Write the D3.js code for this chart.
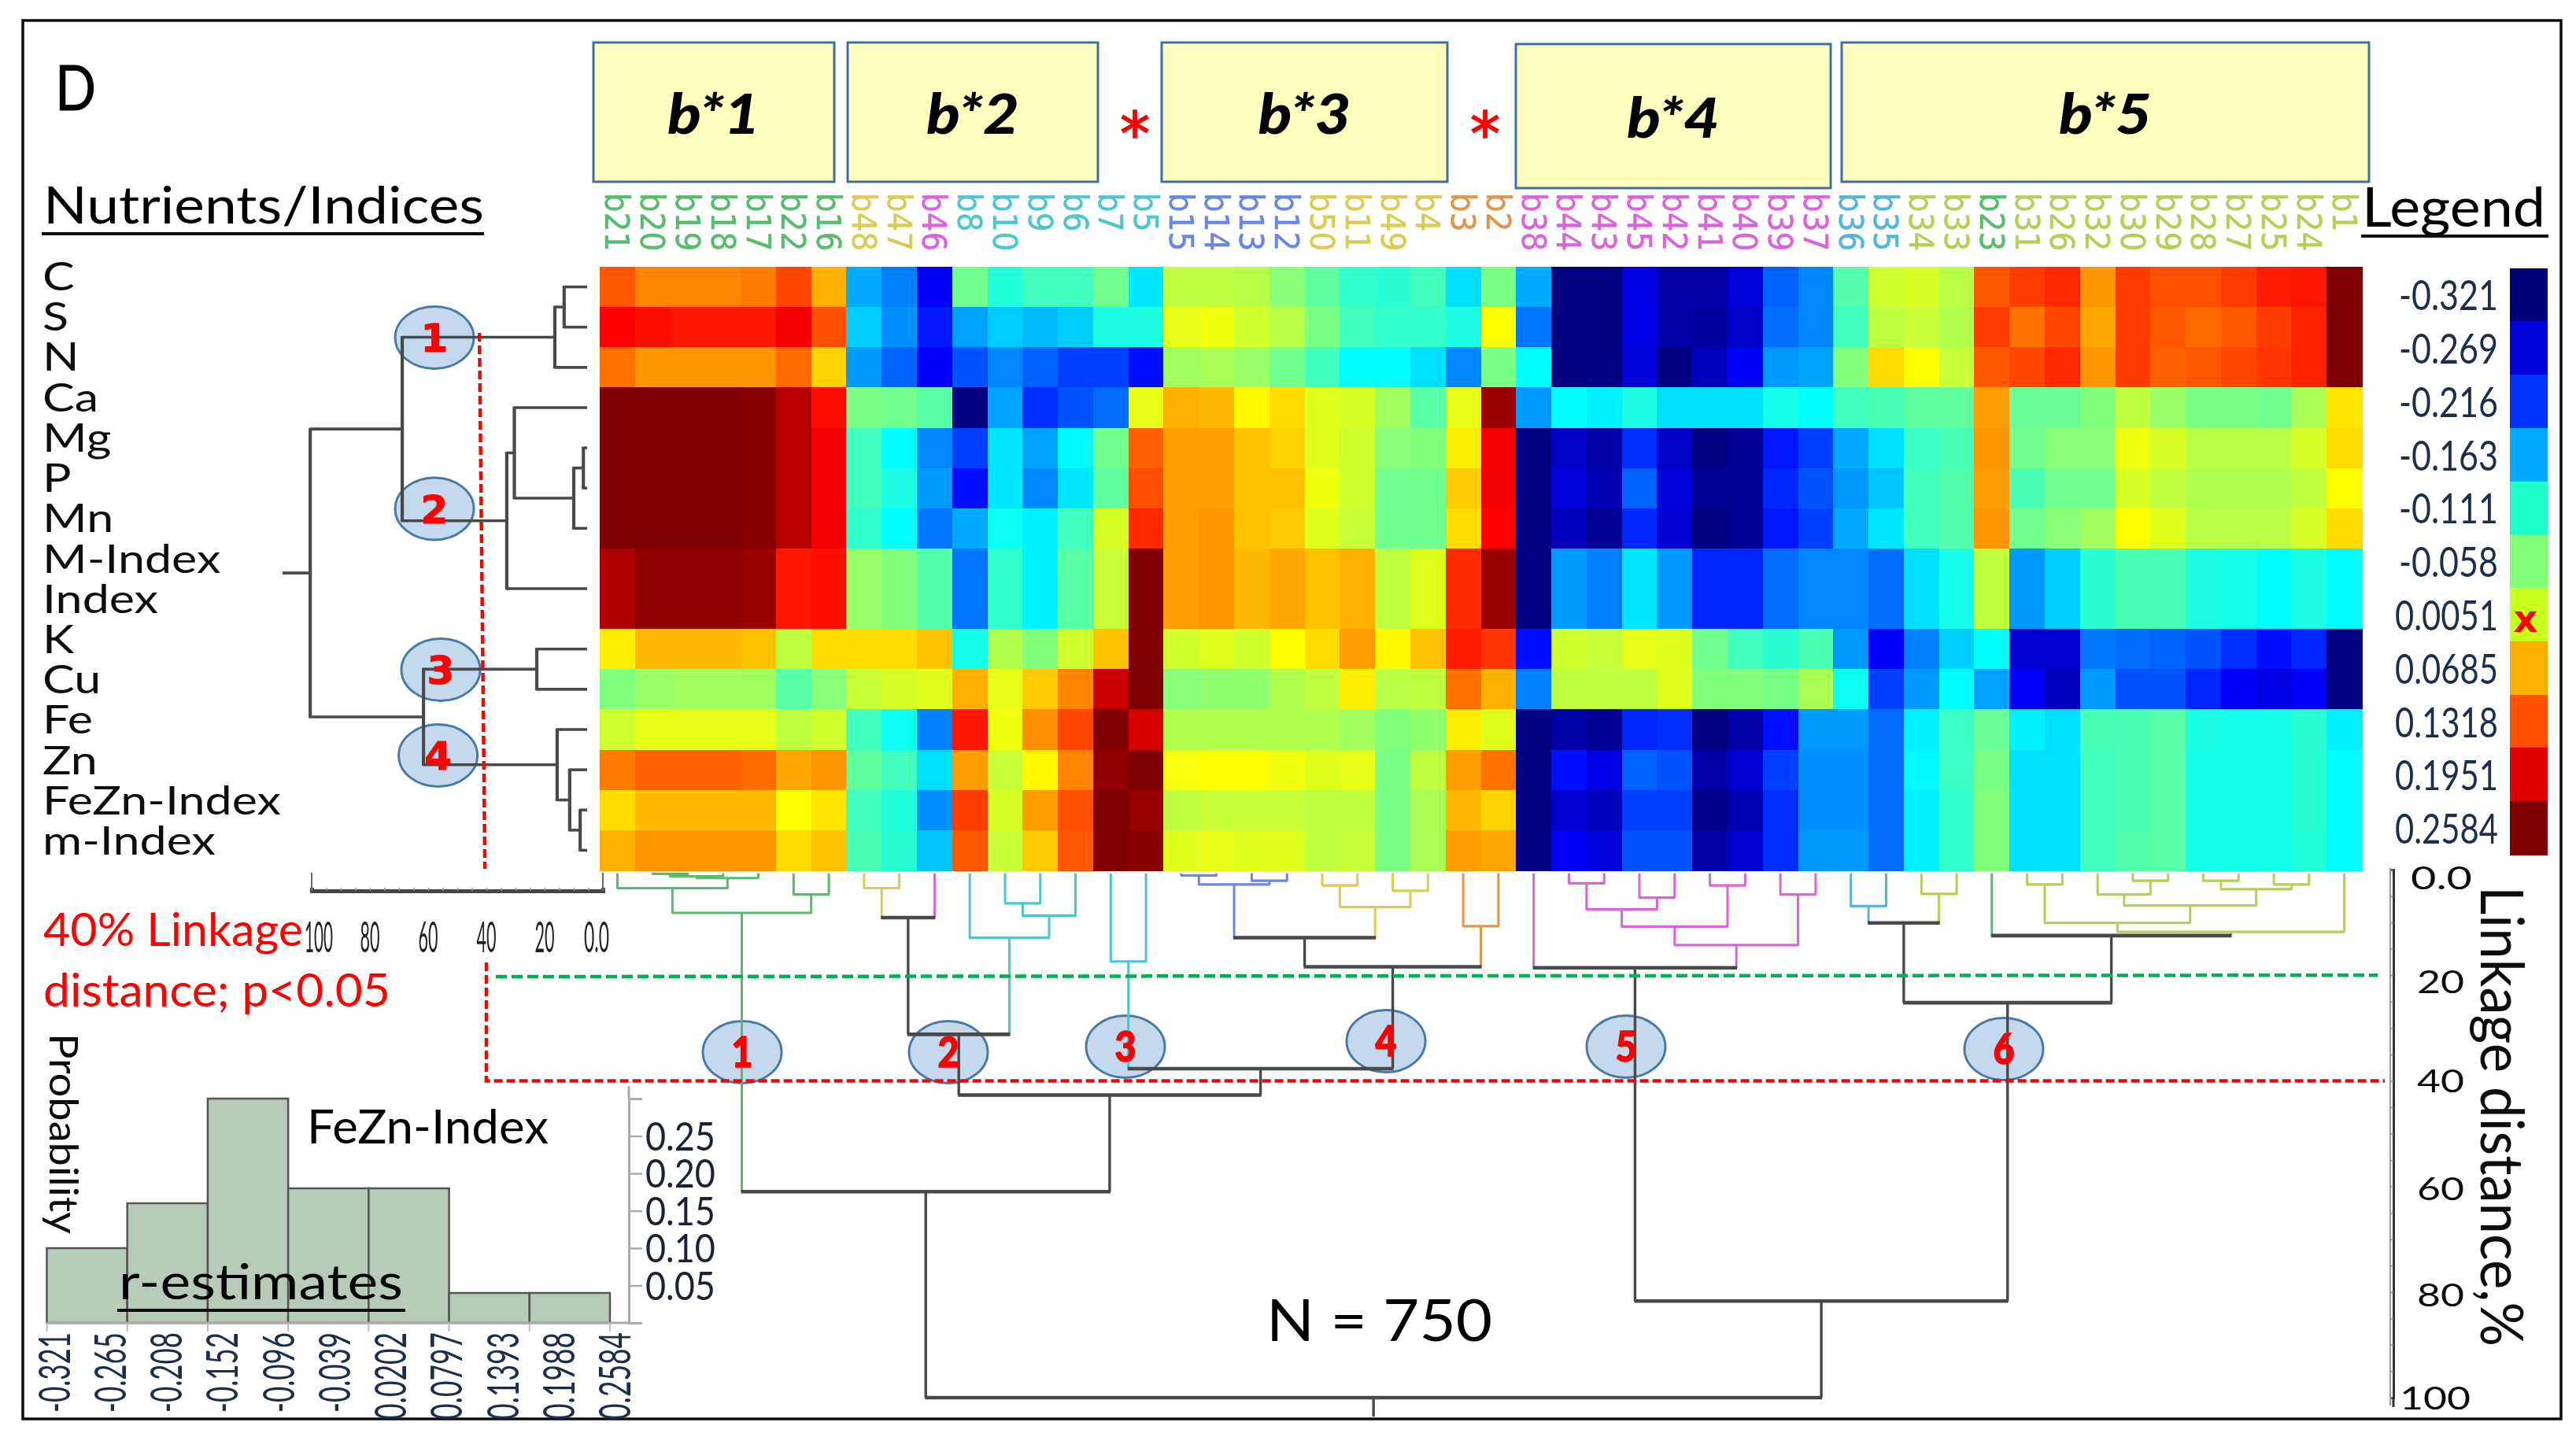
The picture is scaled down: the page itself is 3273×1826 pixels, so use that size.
<!DOCTYPE html>
<html><head><meta charset="utf-8">
<script src="https://cdnjs.cloudflare.com/ajax/libs/d3/7.8.5/d3.min.js"></script>
<style>html,body{margin:0;padding:0;background:#fff}svg{display:block}</style>
</head><body><svg id="c" width="3273" height="1826"></svg>
<script>
// ---------- DATA ----------
const columns = ["b21","b20","b19","b18","b17","b22","b16","b48","b47","b46","b8","b10","b9","b6","b7","b5","b15","b14","b13","b12","b50","b11","b49","b4","b3","b2","b38","b44","b43","b45","b42","b41","b40","b39","b37","b36","b35","b34","b33","b23","b31","b26","b32","b30","b29","b28","b27","b25","b24","b1"];
const nutrients = ["C","S","N","Ca","Mg","P","Mn","M-Index","Index","K","Cu","Fe","Zn","FeZn-Index","m-Index"];
// correlation estimates, r x 100, in column order
const rC  = [14.5,12,12,12,12.5,15.5,9.5,-16,-18.5,-26,-4,-9,-7,-7,-4,-12.5,1,1,.5,-2.5,-5,-8,-8.5,-7,-13,-3.5,-16,-32,-32,-27,-30,-30,-27.5,-20,-18,-6,2,2.5,.5,14.5,16,17,11,16,15,15,16,18,18.5,26];
const rS  = [19.5,19,18.5,18.5,18.5,20,15,-14,-17.5,-24.5,-16.5,-14,-15,-14,-9.5,-9.5,3.5,4,2,.5,-3.5,-7,-8,-8,-9.5,5,-19,-32,-32,-27,-30,-30.5,-28.5,-19.5,-18,-7,1,1.5,0,16,13,15.5,10,16,14.5,13.5,14.5,16,17.5,26];
const rN  = [13,11,11,11,11,13.5,7.5,-17,-20,-26,-21,-18,-20,-22,-22,-25,-1,-.5,-1.5,-4,-7,-11,-11,-13,-18,-3.5,-11,-32,-32,-27.5,-32,-29,-26,-17,-16.5,-3,7,5,1.5,14.5,15.5,17,11,16,14,14.5,15.5,16.5,17.5,26];
const rCa = [26,26,26,26,25.5,23,19,-3.5,-4,-5.5,-32,-16.5,-23,-21,-19.5,3.5,9.5,9,5.5,7,3,2.5,-1,-5.5,3.5,24.5,-17,-11,-12,-9.5,-13,-13,-13,-10,-11,-7,-6.5,-5,-5,10.5,-4.5,-4.5,-3,1,-1.5,-3.5,-3.5,-4,-.5,6.5];
const rMg = [26,26,26,26,25.5,23,20,-7,-11,-18,-22,-12.5,-16.5,-11.5,-4,14,10.5,10.5,8.5,7.5,3,2,-2.5,-3,6,20,-32,-28.5,-30,-23,-28.5,-32,-31,-24.5,-22,-16,-13,-7.5,-6.5,11,-4,-2.5,-2.5,4,2.5,.5,.5,.5,2.5,7];
const rP  = [26,26,26,26,25.5,23,20,-7,-9.5,-17,-25,-12.5,-18,-12.5,-5,15,10.5,10.5,8.5,8.5,4,2,-4,-4,8,20,-32,-27.5,-29.5,-20,-27.5,-31,-31,-23.5,-21,-17,-14.5,-7,-6,10.5,-6.5,-4,-4,2.5,1,0,0,0,1,5];
const rMn = [26,26,26,26,25.5,23,20,-8,-11,-19,-16,-10.5,-12,-7,2.5,17,10.5,11,8.5,8,3,1.5,-4,-4,7,19.5,-32,-29,-31,-23.5,-28,-32,-31,-24.5,-22,-16,-12.5,-7,-6,11,-4,-2.5,-1,5,3,.5,.5,.5,2.5,7];
const rMI = [23.5,25,25,25,24.5,18.5,19,-1.5,-3,-6,-19,-8,-12,-5.5,1.5,26,10.5,11,9,10,8.5,9.5,1,3,17,24.5,-32,-17,-18.5,-12.5,-17,-23.5,-23.5,-19.5,-18,-18,-19.5,-13,-10,1,-17,-14,-8.5,-6.5,-6.5,-9.5,-10,-11,-9.5,-11];
const rI  = [23.5,25,25,25,24.5,18.5,19,-1.5,-3,-6,-19,-8,-12,-5.5,1.5,26,10.5,11,9,10,8.5,9.5,1,3,17,24.5,-32,-17,-18.5,-12.5,-17,-23.5,-23.5,-19.5,-18,-18,-19.5,-13,-10,1,-17,-14,-8.5,-6.5,-6.5,-9.5,-10,-11,-9.5,-11];
const rK  = [6,9,9,9,8.5,1,7,7,7,8.5,-10,0,-3,2,8.5,26,2,3,2,5,7,10.5,5.5,8.5,18,16.5,-25,2,1.5,3.5,3,-4,-7,-8.5,-6.5,-17,-26,-18.5,-14,-11,-28,-28,-19,-19.5,-20,-21,-23,-25,-23.5,-32];
const rCu = [-3,-1.5,-1,-1,-1,-5.5,-2.5,1.5,2.5,3,9.5,3.5,8,12,22,26,-2.5,-2,-2,0,1,6,.5,1,13,9.5,-18.5,1,1,1,3,-3,-3,-3.5,-.5,-10.5,-22,-17,-11,-16.5,-26,-29,-17,-21,-21,-23.5,-26,-27,-26,-32];
const rFe = [2,3.5,3.5,3.5,3.5,1,2,-7,-10.5,-18.5,18.5,4,11.5,15.5,26,21.5,0,0,0,0,0,-1,-3,-2,6,3,-32,-30,-31,-23.5,-23,-32,-30,-25,-17,-17,-19.5,-12,-7.5,-4.5,-12,-13,-6.5,-6.5,-5.5,-9.5,-10,-10,-8.5,-12];
const rZn = [12.5,14,14,14,13.5,10,11,-5,-7,-13,10.5,1.5,5.5,12,25,26,4.5,5,5,4,3,3.5,-3.5,1,10.5,13,-32,-25,-27,-20,-21,-30,-28,-22,-17.5,-17.5,-19.5,-11.5,-7.5,-3.5,-13,-13,-7,-6.5,-5.5,-10,-10,-10,-8.5,-11];
const rFZ = [7,9,9,9,9,5,6.5,-7,-9,-17.5,16,2.5,10.5,15,26,24.5,1,1.5,1.5,1.5,1,1,-3.5,-.5,9,7.5,-32,-28,-29,-22,-22,-31.5,-29.5,-23,-17.5,-17.5,-19.5,-12,-8,-3,-13,-13,-7,-6.5,-5.5,-10,-10,-10,-8.5,-11];
const rMi = [9.5,11,11,11,11,7,8.5,-6.5,-8.5,-14.5,14.5,1.5,8,14.5,26,25.5,3,3.5,3,3,1,1.5,-3.5,-.5,10.5,10,-32,-26,-27.5,-21,-21,-30,-28,-23,-17,-17,-19.5,-12,-8,-3,-13,-13,-7,-6,-5.5,-10,-10,-10,-9,-11];
const heatRows = [rC,rS,rN,rCa,rMg,rP,rMn,rMI,rI,rK,rCu,rFe,rZn,rFZ,rMi];

const groupKeys = ["green","yellow","magenta","teal","blue","orange","sky","lime"];
const groupColours = ["#57bb6d","#d9cb52","#d964d9","#4cc6cc","#6b85e6","#e0954e","#52b4dc","#b4cf57"];
const columnGroups = ["green","green","green","green","green","green","green","yellow","yellow","magenta","teal","teal","teal","teal","teal","teal","blue","blue","blue","blue","yellow","yellow","yellow","yellow","orange","orange","magenta","magenta","magenta","magenta","magenta","magenta","magenta","magenta","magenta","sky","sky","lime","lime","green","lime","lime","lime","lime","lime","lime","lime","lime","lime","lime"];

const legendValues = ["-0.321","-0.269","-0.216","-0.163","-0.111","-0.058","0.0051","0.0685","0.1318","0.1951","0.2584"];
const legendColours = ["#000078","#0000dc","#0032ff","#00aaff","#1effc8","#82ff78","#c8ff1e","#ffaf00","#ff5000","#e10000","#7f0000"];

const histProbability = [0.10,0.16,0.30,0.18,0.18,0.04,0.04];
const histLabels = ["-0.321","-0.265","-0.208","-0.152","-0.096","-0.039","0.0202","0.0797","0.1393","0.1988","0.2584"];
const histTicks = [0.05,0.10,0.15,0.20,0.25];

const boxLabels = ["b*1","b*2","b*3","b*4","b*5"];
const linkageTicks = [0,20,40,60,80,100];

// dendrogram helper: node(height, group, children); leaves are plain names
const nd = (h,g,...kids) => ({h,g,kids});
const D="dark",G="green",Y="yellow",M="magenta",T="teal",B="blue",O="orange",S="sky",L="lime";
const genotypeTree = nd(100,D,
  nd(61,D,
    nd(8.2,G, nd(3.5,G,"b21",nd(1.6,G,nd(1.3,G,nd(.8,G,"b20","b19"),"b18"),"b17")), nd(4.7,G,"b22","b16")),
    nd(42.7,D,
      nd(31.2,D, nd(9.1,D,nd(3.5,Y,"b48","b47"),"b46"), nd(12.9,T,"b8",nd(8.7,T,nd(6.4,T,"b10","b9"),"b6"))),
      nd(37.7,D, nd(17.4,T,"b7","b5"),
        nd(18.4,D,
          nd(12.9,D, nd(2.8,B,nd(1.1,B,"b15","b14"),nd(2.1,B,"b13","b12")), nd(7.1,Y,nd(3,Y,"b50","b11"),nd(4,Y,"b49","b4"))),
          nd(10.7,O,"b3","b2"))))),
  nd(81.7,D,
    nd(18.6,D,"b38",nd(14.3,M,nd(10.8,M,nd(7.5,M,nd(2.6,M,"b44","b43"),nd(5.3,M,"b45","b42")),nd(3,M,"b41","b40")),nd(4.7,M,"b39","b37"))),
    nd(25.2,D,
      nd(10.1,D,nd(6.9,S,"b36","b35"),nd(4.6,L,"b34","b33")),
      nd(12.5,D,"b23",nd(11.8,L,nd(10.1,L,nd(2.8,L,"b31","b26"),nd(6.8,L,nd(4.7,L,"b32",nd(2.1,L,"b30","b29")),nd(3.7,L,nd(2.1,L,"b28","b27"),nd(2.8,L,"b25","b24")))),"b1")))));
const nutrientTree = nd(100.5,D,
  nd(68.9,D,
    nd(16.5,D,nd(13.3,D,"C","S"),"N"),
    nd(33,D,nd(30.4,D,"Ca",nd(10,D,nd(6.7,D,"Mg","P"),"Mn")),nd(4,D,"M-Index","Index"))),
  nd(61.6,D,
    nd(22.7,D,"K","Cu"),
    nd(15.7,D,"Fe",nd(11.4,D,"Zn",nd(7.8,D,"FeZn-Index","m-Index")))));

// ---------- SCALES ----------
const svg = d3.select("#c");
svg.append("defs").append("filter").attr("id","soft").attr("filterUnits","userSpaceOnUse")
  .attr("x",0).attr("y",0).attr("width",3273).attr("height",1826)
  .append("feGaussianBlur").attr("stdDeviation",0.7);
const root = svg.append("g").attr("filter","url(#soft)");
root.append("rect").attr("width",3273).attr("height",1826).attr("fill","#fff");

const xCol = d3.scaleBand().domain(columns).range([762,3001]);
const yRow = d3.scaleBand().domain(nutrients).range([339,1106]);
const heat = d3.scaleLinear()
  .domain([-32.1,-25.7,-11.2,-3.1,5,19.5,25.84])
  .range(["#00007f","#0000ff","#00ffff","#7fff7f","#ffff00","#ff0000","#7f0000"])
  .clamp(true);
const groupColour = d3.scaleOrdinal().domain(groupKeys).range(groupColours);
const DARK = "#4a4a4a";
const colourOf = g => g===D ? DARK : groupColour(g);
const columnColour = c => groupColour(columnGroups[columns.indexOf(c)]);
const yLink = d3.scaleLinear().domain([0,100]).range([1105,1776]);
const xLink = d3.scaleLinear().domain([100,0]).range([396,766]);
const yLabel = d3.scalePoint().domain(nutrients).range([369,1086]);

const LATO = "Lato, 'Open Sans', sans-serif", DEJA = "'DejaVu Sans', sans-serif";
function txt(p,s,x,y,o={}){
  const t = p.append("text").text(s).attr("font-family",o.f||LATO).attr("font-size",o.s||40)
    .attr("fill",o.c||"#000").attr("text-anchor",o.a||"start")
    .attr("transform",`translate(${x},${y})`+(o.r?` rotate(${o.r})`:"")+((o.sx||o.sy)?` scale(${o.sx||1},${o.sy||1})`:""));
  if(o.w) t.attr("textLength",o.w).attr("lengthAdjust","spacingAndGlyphs");
  if(o.b) t.attr("font-weight",o.b);
  if(o.i) t.attr("font-style","italic");
  if(o.st) t.attr("stroke",o.c||"#000").attr("stroke-width",o.st);
  return t;
}
const rule = (p,x1,y1,x2,y2,c,w) => p.append("line").attr("x1",x1).attr("y1",y1).attr("x2",x2).attr("y2",y2).attr("stroke",c).attr("stroke-width",w);

// ---------- FRAME ----------
root.append("rect").attr("x",29).attr("y",26).attr("width",3225).attr("height",1777)
  .attr("fill","none").attr("stroke","#111").attr("stroke-width",3.5);
txt(root,"D",70,140,{s:80,w:52,st:1});

// ---------- GROUP BOXES ----------
const boxLeft = [754,1077,1476,1926,2340], boxRight=[1060,1395,1839,2326,3010], boxTop=[54,54,54,56,54], boxBottom=[231,231,231,239,231];
boxLabels.forEach((b,i)=>{
  root.append("rect").attr("x",boxLeft[i]).attr("y",boxTop[i]).attr("width",boxRight[i]-boxLeft[i]).attr("height",boxBottom[i]-boxTop[i])
    .attr("fill","#ffffc0").attr("stroke","#41719c").attr("stroke-width",3);
  txt(root,b,(boxLeft[i]+boxRight[i])/2,boxTop[i]+116+(i===3?3:0),{s:70,a:"middle",b:"900",i:true,w:118});
});
[1442,1887].forEach(x=>txt(root,"*",x,197,{f:DEJA,s:76,a:"middle",c:"#f00",st:1.5}));

// ---------- COLUMN LABELS ----------
columns.forEach(c=>{
  txt(root,c,xCol(c)+xCol.bandwidth()/2-15,245,{f:DEJA,s:39,r:90,sy:1.1,c:columnColour(c),st:0.4});
});

// ---------- HEATMAP ----------
const cells = root.append("g").attr("shape-rendering","crispEdges");
nutrients.forEach((n,i)=>{
  cells.selectAll(null).data(heatRows[i]).join("rect")
    .attr("x",(d,j)=>xCol(columns[j])).attr("y",yRow(n))
    .attr("width",xCol.bandwidth()+.6).attr("height",yRow.bandwidth()+.6)
    .attr("fill",d=>heat(d));
});

// ---------- LABELS LEFT ----------
txt(root,"Nutrients/Indices",55,284,{s:66,w:560});
rule(root,53,297,615,297,"#111",4);
nutrients.forEach(n=>txt(root,n,54,yLabel(n),{s:50,sx:1.22,c:"#111"}));

// ---------- ELLIPSES ----------
const ell = root.append("g");
const rowOval = [[552,429,"1"],[552,646.5,"2"],[560,851,"3"],[556.6,960,"4"]];
const colOval = [[943,1337,"1"],[1205,1337,"2"],[1430,1330,"3"],[1761,1323,"4"],[2066,1330,"5"],[2546,1333,"6"]];
[...rowOval,...colOval].forEach(e=>ell.append("ellipse").attr("cx",e[0]).attr("cy",e[1]).attr("rx",50).attr("ry",39.5)
  .attr("fill","#c5d9ee").attr("stroke","#4a7aa5").attr("stroke-width",3));

// ---------- TOP DENDROGRAM ----------
const topRoot = d3.hierarchy(genotypeTree, d=>typeof d==="string"?null:d.kids);
const leafTop = 0.7;
topRoot.eachAfter(n=>{
  if(n.children) n.px = d3.mean(n.children,k=>k.px);
  else n.px = xCol(n.data)+xCol.bandwidth()/2;
  n.hh = n.children ? n.data.h : leafTop;
  n.col = n.children ? colourOf(n.data.g) : columnColour(n.data);
});
const dTop = root.append("g");
topRoot.each(n=>{
  if(!n.children) return;
  n.children.forEach(k=>rule(dTop,k.px,yLink(k.hh),k.px,yLink(n.hh),k.col,k.col===DARK?3.4:3));
});
topRoot.each(n=>{
  if(!n.children) return;
  rule(dTop,n.children[0].px-1,yLink(n.hh),n.children[1].px+1,yLink(n.hh),n.col,n.col===DARK?4.6:3.2);
});
rule(dTop,topRoot.px,yLink(100),topRoot.px,yLink(103.6),DARK,3.4);

// ---------- LEFT DENDROGRAM ----------
const leftRoot = d3.hierarchy(nutrientTree, d=>typeof d==="string"?null:d.kids);
const leafEnd = 5.4;
leftRoot.eachAfter(n=>{
  if(n.children) n.py = d3.mean(n.children,k=>k.py);
  else n.py = yRow(n.data)+yRow.bandwidth()/2;
  n.hh = n.children ? Math.max(n.data.h,leafEnd) : leafEnd;
});
const dLeft = root.append("g");
leftRoot.each(n=>{
  if(!n.children || n.data.h<leafEnd) return;
  n.children.forEach(k=>rule(dLeft,xLink(k.hh),k.py,xLink(n.hh),k.py,DARK,3.6));
  rule(dLeft,xLink(n.hh),n.children[0].py-1.5,xLink(n.hh),n.children[1].py+1.5,DARK,4.2);
});
rule(dLeft,xLink(100.5),leftRoot.py,xLink(110),leftRoot.py,DARK,3.6);

// left linkage axis
const axL = root.append("g").attr("transform","translate(0,1132)")
  .call(d3.axisTop(xLink).tickValues(d3.range(0,101,5)).tickSize(4).tickFormat(""));
axL.select(".domain").attr("stroke","#444").attr("stroke-width",5);
axL.selectAll(".tick line").attr("stroke","#999").attr("stroke-width",1.5);
[100,0].forEach(v=>rule(root,xLink(v),1109,xLink(v),1132,"#666",2));
linkageTicks.slice().reverse().forEach(v=>{
  txt(root,v===0?"0.0":String(v),Math.min(Math.max(xLink(v),405),758),1210,{s:54,a:"middle",w:v===0?32:(v===100?36:25),c:"#222"});
});

// ---------- LINKAGE CUT LINES ----------
rule(root,xLink(42.4),423,xLink(40.5),1104,"#f00",4.5).attr("stroke-dasharray","11 5");
root.append("path").attr("d",d3.line()([[xLink(40),1223],[xLink(40),yLink(40)],[3030,yLink(40)]]))
  .attr("fill","none").attr("stroke","#f00").attr("stroke-width",4.5).attr("stroke-dasharray","11 5");
rule(root,630,1241,3021,yLink(20),"#00b050",4.5).attr("stroke-dasharray","14 6");

// ---------- NUMBERS IN OVALS ----------
rowOval.forEach(e=>txt(root,e[2],e[0],e[1]+18,{f:DEJA,s:50,a:"middle",b:"bold",c:"#f00",st:1}));
colOval.forEach(e=>txt(root,e[2],e[0],e[1]+19,{s:54,a:"middle",b:"900",c:"#f00",w:27,st:1.5}));

// ---------- RIGHT LINKAGE AXIS ----------
const axR = root.append("g").attr("transform","translate(3041,0)")
  .call(d3.axisLeft(yLink).tickValues(d3.range(0,101,5)).tickSize(5).tickFormat(""));
axR.select(".domain").attr("stroke","#333").attr("stroke-width",3);
axR.selectAll(".tick line").attr("stroke","#888").attr("stroke-width",1.5);
rule(root,3037,1103,3037,1786,"#999",2);
rule(root,3041,1776,3041,1788,"#333",3);
const axisNudge = [25,23,15,17,18,15];
linkageTicks.forEach((v,i)=>{
  const big=v===100, zero=v===0;
  txt(root,zero?"0.0":String(v),big?3049:(zero?3063:3071),yLink(v)+axisNudge[i],{s:40,c:"#111",w:big?90:(zero?78:60)});
});
txt(root,"Linkage distance,%",3152,1126,{s:76,r:90,w:585,c:"#111"});

// ---------- LEGEND ----------
txt(root,"Legend",3001,288,{s:70,w:233});
rule(root,3000,300,3238,300,"#111",4);
const yLeg = d3.scaleBand().domain(legendValues).range([340.5,1086]);
legendValues.forEach((v,i)=>{
  root.append("rect").attr("x",3189).attr("y",yLeg(v)).attr("width",48).attr("height",yLeg.bandwidth()+.5)
    .attr("fill",legendColours[i]).attr("shape-rendering","crispEdges");
  txt(root,v,3174,yLeg(v)+yLeg.bandwidth()/2+20,{s:52,a:"end",c:"#1f2f48",w:v[0]==="-"?126:131});
});
txt(root,"x",3209,803,{f:DEJA,s:48,a:"middle",b:"bold",c:"#f00"});

// ---------- LINKAGE NOTE ----------
txt(root,"40% Linkage",55,1202,{s:58,c:"#f00",w:330});
txt(root,"distance; p<0.05",55,1279,{s:58,c:"#f00",w:441});

// ---------- HISTOGRAM ----------
const xBin = d3.scaleLinear().domain([0,histProbability.length]).range([59.5,775]);
const yHist = d3.scaleLinear().domain([0,0.30]).range([1681,1396]);
root.append("g").selectAll("rect").data(histProbability).join("rect")
  .attr("x",(d,i)=>xBin(i)).attr("width",(d,i)=>xBin(i+1)-xBin(i))
  .attr("y",d=>yHist(d)).attr("height",d=>yHist(0)-yHist(d))
  .attr("fill","#b8cab8").attr("stroke","#555").attr("stroke-width",2.5);
const axH = root.append("g").attr("transform","translate(799,0)")
  .call(d3.axisRight(yHist).tickValues([0,0.05,0.10,0.15,0.20,0.25,0.30]).tickSize(17).tickFormat(""));
axH.select(".domain").attr("stroke","#aaa").attr("stroke-width",3);
axH.selectAll(".tick line").attr("stroke","#aaa").attr("stroke-width",2.5);
rule(root,799,yHist(0.3),799,1380,"#aaa",3);
rule(root,59.5,yHist(0),799,yHist(0),"#aaa",3);
d3.range(0,histProbability.length+1).forEach(i=>rule(root,xBin(i),1681,xBin(i),1692,"#bbb",2));
histTicks.forEach(v=>txt(root,v.toFixed(2),820,yHist(v)+18,{s:50,c:"#1a2433",w:89}));
const xHistLabel = d3.scalePoint().domain(histLabels).range([88.6,801]);
histLabels.forEach(l=>txt(root,l,xHistLabel(l),1693,{s:56,r:-90,a:"end",c:"#1f2f48",w:l[0]==="-"?102:111}));
txt(root,"Probability",63,1313,{s:50,r:90,w:255,c:"#111"});
txt(root,"FeZn-Index",390,1453,{s:60,w:307});
txt(root,"r-estimates",151,1651,{s:62,w:361});
rule(root,149,1665,515,1665,"#111",4);
txt(root,"N = 750",1609,1704,{s:74,w:287});
</script></body></html>
